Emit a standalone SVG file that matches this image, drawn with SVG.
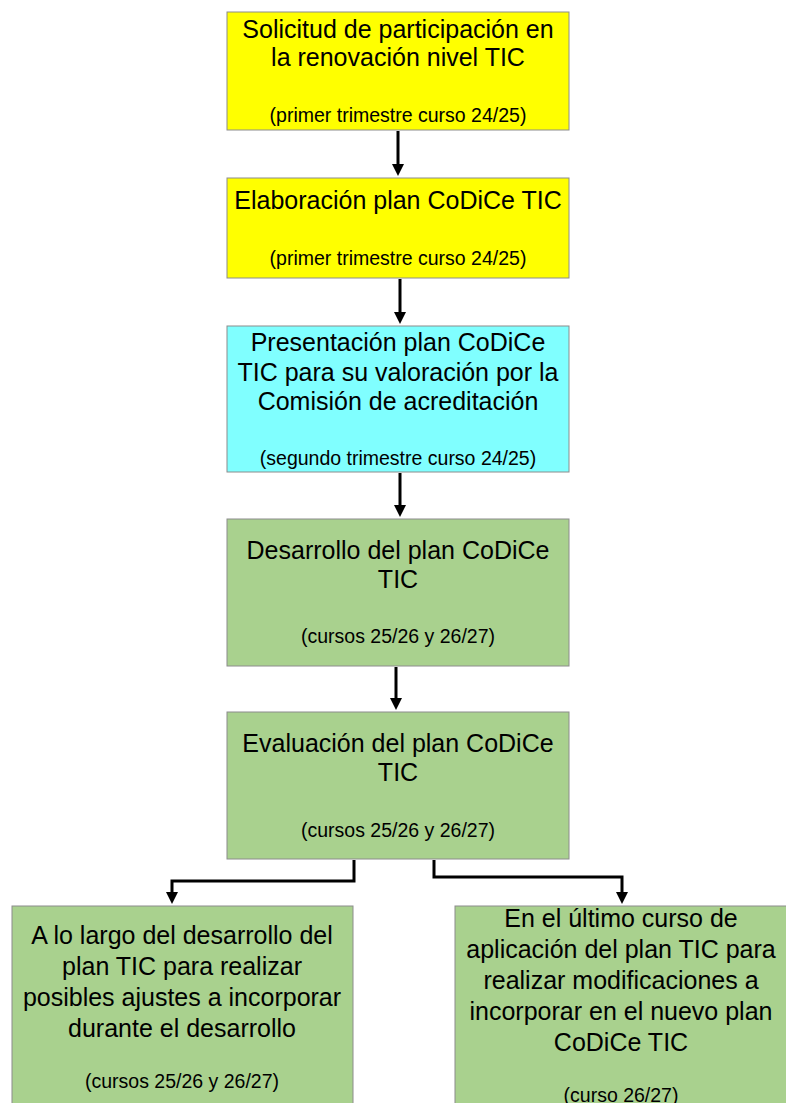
<svg xmlns="http://www.w3.org/2000/svg" width="786" height="1103" viewBox="0 0 786 1103">
<style>
.box{stroke:#8c8c8c;stroke-width:1}
.y{fill:#ffff00}.c{fill:#80ffff}.g{fill:#a9d18e}
.t{font-family:"Liberation Sans",Arial,sans-serif;font-size:25px;fill:#000;text-anchor:middle}
.s{font-family:"Liberation Sans",Arial,sans-serif;font-size:19.5px;fill:#000;text-anchor:middle}
.conn{fill:none;stroke:#000;stroke-width:3;marker-end:url(#ah)}
</style>
<defs>
<marker id="ah" markerWidth="4" markerHeight="4" refX="2" refY="2" orient="auto" markerUnits="strokeWidth" viewBox="0 0 4 4">
<path d="M0,0 L4,2 L0,4 Z" fill="#000"/>
</marker>
</defs>
<rect width="786" height="1103" fill="#fff"/>
<g id="connectors">
<path class="conn" d="M398,131 V170"/>
<path class="conn" d="M400,279 V318"/>
<path class="conn" d="M400,473 V511"/>
<path class="conn" d="M396,667 V704"/>
<path class="conn" d="M354,860 V881 H172 V898"/>
<path class="conn" d="M434,860 V877 H622 V898"/>
</g>
<g id="n1">
<rect class="box y" x="227" y="12" width="342" height="118"/>
<text class="t" x="398" y="38">Solicitud de participación en</text>
<text class="t" x="398" y="66">la renovación nivel TIC</text>
<text class="s" x="398" y="122">(primer trimestre curso 24/25)</text>
</g>
<g id="n2">
<rect class="box y" x="227" y="178" width="342" height="100"/>
<text class="t" x="398" y="209">Elaboración plan CoDiCe TIC</text>
<text class="s" x="398" y="265">(primer trimestre curso 24/25)</text>
</g>
<g id="n3">
<rect class="box c" x="227" y="326" width="342" height="146"/>
<text class="t" x="398" y="351">Presentación plan CoDiCe</text>
<text class="t" x="398" y="381">TIC para su valoración por la</text>
<text class="t" x="398" y="410">Comisión de acreditación</text>
<text class="s" x="398" y="465">(segundo trimestre curso 24/25)</text>
</g>
<g id="n4">
<rect class="box g" x="227" y="519" width="342" height="147"/>
<text class="t" x="398" y="559">Desarrollo del plan CoDiCe</text>
<text class="t" x="398" y="588">TIC</text>
<text class="s" x="398" y="643">(cursos 25/26 y 26/27)</text>
</g>
<g id="n5">
<rect class="box g" x="227" y="712" width="342" height="147"/>
<text class="t" x="398" y="752">Evaluación del plan CoDiCe</text>
<text class="t" x="398" y="781">TIC</text>
<text class="s" x="398" y="837">(cursos 25/26 y 26/27)</text>
</g>
<g id="n6">
<rect class="box g" x="12" y="906" width="341" height="210"/>
<text class="t" x="182" y="944">A lo largo del desarrollo del</text>
<text class="t" x="182" y="975">plan TIC para realizar</text>
<text class="t" x="182" y="1006">posibles ajustes a incorporar</text>
<text class="t" x="182" y="1037">durante el desarrollo</text>
<text class="s" x="182" y="1088">(cursos 25/26 y 26/27)</text>
</g>
<g id="n7">
<rect class="box g" x="455" y="906" width="340" height="210"/>
<text class="t" x="621" y="927">En el último curso de</text>
<text class="t" x="621" y="958">aplicación del plan TIC para</text>
<text class="t" x="621" y="989">realizar modificaciones a</text>
<text class="t" x="621" y="1020">incorporar en el nuevo plan</text>
<text class="t" x="621" y="1051">CoDiCe TIC</text>
<text class="s" x="621" y="1102">(curso 26/27)</text>
</g>
</svg>
